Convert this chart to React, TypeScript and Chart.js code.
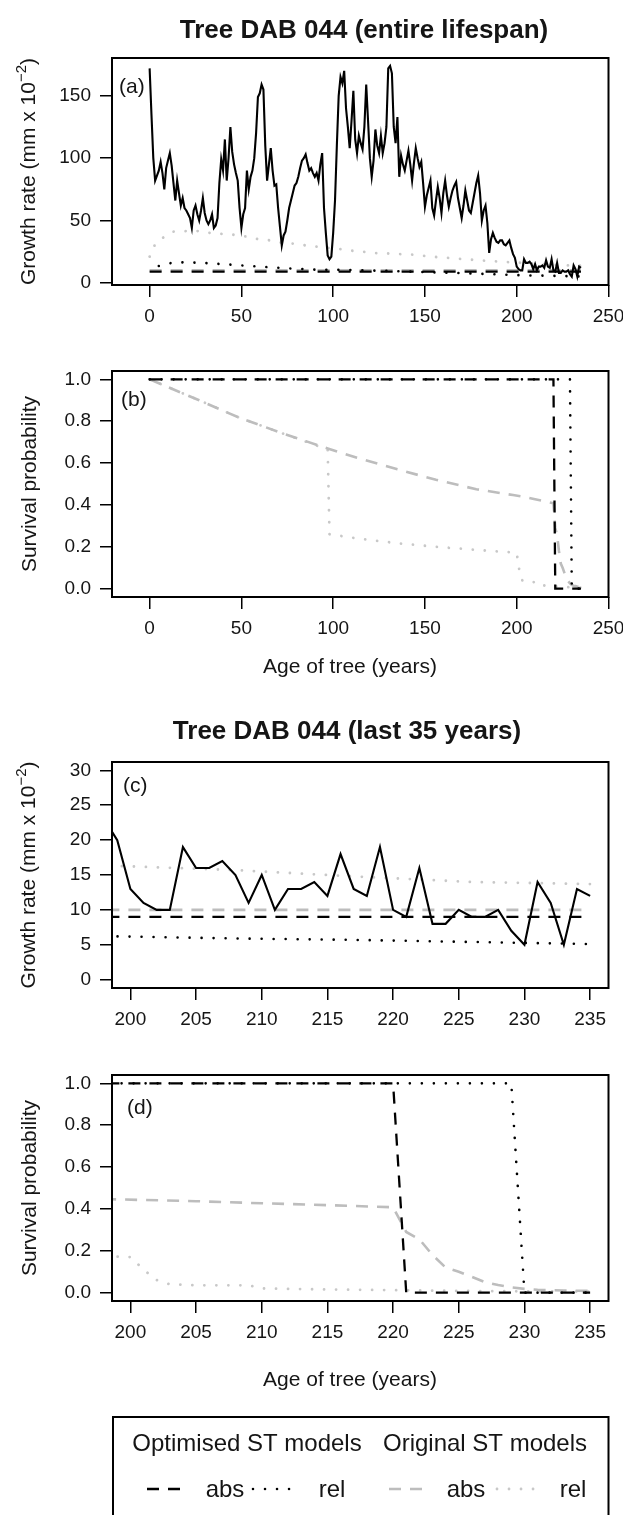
import React, { useEffect, useRef } from "react";
import { Chart, registerables } from "chart.js";

Chart.register(...registerables);

const PAGE_W = 623;
const PAGE_H = 1515;
const FONT = '"Liberation Sans", Arial, Helvetica, sans-serif';
const INK = "#151515";

// ---------------- data ----------------
// annual growth rate (mm x 10^-2), ages 0..235
const growthFirstAge = 0;
const growthRate = [
  172, 135, 100, 82, 86, 90, 97, 88, 75, 92,
  98, 104, 94, 80, 66, 82, 72, 62, 68, 60,
  58, 55, 52, 44, 58, 62, 55, 50, 58, 68,
  56, 50, 47, 50, 55, 44, 46, 52, 80, 99,
  90, 115, 82, 100, 125, 105, 95, 88, 82, 60,
  44, 55, 60, 90, 75, 85, 90, 100, 120, 149,
  152, 159, 155, 110, 82, 95, 108, 90, 78, 79,
  60, 45, 30, 38, 41, 50, 60, 66, 72, 78,
  80, 85, 92, 98, 100, 103, 96, 90, 92, 88,
  85, 88, 82, 95, 104, 60, 40, 22, 19, 21,
  40, 66, 110, 150, 165, 160, 170, 140, 125, 108,
  130, 154, 115, 104, 118, 112, 107, 125, 159, 130,
  100, 85, 98, 123, 110, 104, 118, 104, 112, 125,
  172, 174, 168, 125, 112, 133, 85, 102, 95, 90,
  98, 106, 95, 82, 96, 108, 100, 93, 97, 80,
  61, 70, 76, 82, 60, 54, 66, 77, 68, 56,
  72, 82, 70, 61, 68, 74, 78, 81, 68, 60,
  52, 62, 74, 66, 58, 56, 64, 72, 80, 86,
  72, 50, 58, 62, 48, 24, 35, 40, 36, 33,
  32, 34, 34, 31, 30, 32, 34, 28, 23, 20,
  13, 11, 10, 10, 19, 16, 16, 17, 15, 11,
  15, 10, 13, 13, 14, 12, 18, 13, 12, 19,
  10, 9, 16, 8, 8, 10, 9, 9, 10, 7,
  5, 14, 11, 5, 13, 12,
];
const growthAges = growthRate.map((_, i) => growthFirstAge + i);

// model growth thresholds
const optAbsGrowthAges = [0, 235];
const optAbsGrowth = [9, 9];
const origAbsGrowthAges = [0, 235];
const origAbsGrowth = [10, 10];
const optRelGrowthAges = [5, 12, 20, 32, 40, 50, 64, 77, 90, 103, 117, 130, 150, 178, 199, 208, 217, 226, 235];
const optRelGrowth = [13.5, 16, 16.5, 15.7, 15, 14, 12.6, 11.5, 10.6, 10.4, 10, 9.5, 8.6, 7.4, 6.2, 5.9, 5.7, 5.4, 5.1];
const origRelGrowthAges = [0, 3, 8, 13, 20, 27, 33, 46, 53, 59, 66, 72, 78, 85, 91, 104, 111, 124, 130, 144, 156, 169, 182, 199, 208, 217, 226, 235];
const origRelGrowth = [21, 31, 37, 41, 41.5, 41.5, 40, 38.5, 37, 35, 34, 32, 31.5, 30, 29, 27, 25.6, 23.8, 23.5, 22.5, 20.7, 19.2, 17.8, 16.3, 15.7, 14.8, 14.0, 13.7];

// survival probabilities
const optAbsSurvAges = [0, 220, 221, 235];
const optAbsSurv = [1, 1, 0, 0];
const optRelSurvAges = [0, 229, 230, 235];
const optRelSurv = [1, 1, 0, 0];
const origAbsSurvAges = [0, 27, 48, 73, 97, 113, 135, 156, 178, 198, 205, 210, 215, 220, 221, 222, 223, 224, 225, 226, 227, 228, 229, 230, 231, 232, 233, 234, 235];
const origAbsSurv = [1.0, 0.9, 0.82, 0.74, 0.67, 0.625, 0.57, 0.52, 0.475, 0.447, 0.437, 0.427, 0.418, 0.408, 0.29, 0.255, 0.18, 0.12, 0.1, 0.075, 0.05, 0.036, 0.025, 0.018, 0.014, 0.012, 0.01, 0.009, 0.008];
const origRelSurvAges = [0, 27, 48, 73, 97, 98, 113, 135, 156, 178, 199, 200, 201, 202, 203, 205, 209, 210, 215, 220, 225, 230, 235];
const origRelSurv = [1.0, 0.9, 0.82, 0.74, 0.665, 0.26, 0.24, 0.217, 0.2, 0.185, 0.172, 0.17, 0.11, 0.06, 0.04, 0.035, 0.035, 0.02, 0.015, 0.012, 0.008, 0.006, 0.005];

// ticks
const lifespanTicks = [0, 50, 100, 150, 200, 250];
const lastYearsTicks = [200, 205, 210, 215, 220, 225, 230, 235];
const growthTicksFull = [0, 50, 100, 150];
const growthTicksLast = [0, 5, 10, 15, 20, 25, 30];
const survTicks = [0, 0.2, 0.4, 0.6, 0.8, 1.0];

// ---------------- styles ----------------
const S_GROWTH = { borderColor: "#000", borderWidth: 2.1 };
const S_OPT_ABS = { borderColor: "#000", borderWidth: 2.3, borderDash: [12, 9] };
const S_OPT_REL = { borderColor: "#000", borderWidth: 2.6, borderDash: [0.01, 12], borderCapStyle: "round" };
const S_ORIG_ABS = { borderColor: "#bdbdbd", borderWidth: 2.6, borderDash: [12, 9] };
const S_ORIG_REL = { borderColor: "#c8c8c8", borderWidth: 2.8, borderDash: [0.01, 12], borderCapStyle: "round" };

const BOX_LEFT = 112;
const BOX_RIGHT = 608.5;
const XAXIS_H = 50;

const pts = (xs: number[], ys: number[]) => xs.map((x, i) => ({ x, y: ys[i] }));
const ds = (data: any[], style: any) => ({ data, pointRadius: 0, tension: 0, fill: false, ...style });

function scale(min: number, max: number, ticks: number[], fmt: (v: number) => string, isX: boolean) {
  return {
    type: "linear",
    min,
    max,
    bounds: "data",
    afterBuildTicks: (s: any) => {
      s.ticks = ticks.map((v) => ({ value: v }));
    },
    afterFit: (s: any) => {
      if (isX) s.height = XAXIS_H;
      else s.width = BOX_LEFT;
      s.paddingLeft = 0;
      s.paddingRight = 0;
      s.paddingTop = 0;
      s.paddingBottom = 0;
    },
    grid: { drawOnChartArea: false, drawTicks: true, tickLength: 12, color: "#000", lineWidth: 1.5 },
    border: { display: false },
    ticks: {
      font: { family: FONT, size: 19 },
      color: INK,
      padding: isX ? 8 : 9,
      maxRotation: 0,
      autoSkip: false,
      callback: (v: any) => fmt(Number(v)),
    },
  };
}

type Part = { t: string; size: number; dy: number };

function drawRotated(ctx: CanvasRenderingContext2D, parts: Part[], baseX: number, centerY: number) {
  ctx.save();
  ctx.translate(baseX, centerY);
  ctx.rotate(-Math.PI / 2);
  ctx.textAlign = "left";
  ctx.textBaseline = "alphabetic";
  let total = 0;
  const widths = parts.map((p) => {
    ctx.font = `${p.size}px ${FONT}`;
    const w = ctx.measureText(p.t).width;
    total += w;
    return w;
  });
  let x = -total / 2;
  parts.forEach((p, i) => {
    ctx.font = `${p.size}px ${FONT}`;
    ctx.fillText(p.t, x, p.dy);
    x += widths[i];
  });
  ctx.restore();
}

function seg(ctx: CanvasRenderingContext2D, x0: number, x1: number, y: number, st: any) {
  ctx.save();
  ctx.strokeStyle = st.borderColor;
  ctx.lineWidth = st.borderWidth;
  ctx.setLineDash(st.borderDash || []);
  ctx.lineCap = st.borderCapStyle || "butt";
  ctx.beginPath();
  ctx.moveTo(x0, y);
  ctx.lineTo(x1, y);
  ctx.stroke();
  ctx.restore();
}

function drawLegend(ctx: CanvasRenderingContext2D) {
  ctx.save();
  ctx.setLineDash([]);
  ctx.lineWidth = 2;
  ctx.strokeStyle = "#000";
  ctx.strokeRect(113, 1417, 495.5, 140);
  ctx.fillStyle = INK;
  ctx.font = `24px ${FONT}`;
  ctx.textAlign = "center";
  ctx.textBaseline = "alphabetic";
  ctx.fillText("Optimised ST models", 247, 1451);
  ctx.fillText("Original ST models", 485, 1451);
  ctx.fillText("abs", 225, 1497);
  ctx.fillText("rel", 332, 1497);
  ctx.fillText("abs", 466, 1497);
  ctx.fillText("rel", 573, 1497);
  seg(ctx, 147, 180, 1489, S_OPT_ABS);
  seg(ctx, 253, 293, 1489, S_OPT_REL);
  seg(ctx, 389, 422, 1489, S_ORIG_ABS);
  seg(ctx, 497, 545, 1489, S_ORIG_REL);
  ctx.restore();
}

type Decor = {
  label: string;
  labelX: number;
  labelBase: number;
  title?: string;
  titleX?: number;
  titleBase?: number;
  xlab?: string;
  xlabX?: number;
  xlabBase?: number;
  ylab: Part[];
  ylabBaseX: number;
  legend?: boolean;
};

function decorPlugin(d: Decor) {
  return {
    id: "decor",
    afterDraw(chart: any) {
      const ctx: CanvasRenderingContext2D = chart.ctx;
      const a = chart.chartArea;
      ctx.save();
      ctx.setLineDash([]);
      ctx.strokeStyle = "#000";
      ctx.lineWidth = 2;
      ctx.strokeRect(a.left, a.top, a.right - a.left, a.bottom - a.top);
      ctx.fillStyle = INK;
      ctx.textBaseline = "alphabetic";
      ctx.font = `21px ${FONT}`;
      ctx.textAlign = "left";
      ctx.fillText(d.label, d.labelX, d.labelBase);
      if (d.title) {
        ctx.font = `bold 26px ${FONT}`;
        ctx.textAlign = "center";
        ctx.fillText(d.title, d.titleX!, d.titleBase!);
      }
      if (d.xlab) {
        ctx.font = `21px ${FONT}`;
        ctx.textAlign = "center";
        ctx.fillText(d.xlab, d.xlabX!, d.xlabBase!);
      }
      drawRotated(ctx, d.ylab, d.ylabBaseX, (a.top + a.bottom) / 2);
      if (d.legend) drawLegend(ctx);
      ctx.restore();
    },
  };
}

const growthLab: Part[] = [
  { t: "Growth rate (mm x 10", size: 21, dy: 0 },
  { t: "\u22122", size: 15, dy: -9 },
  { t: ")", size: 21, dy: 0 },
];
const survLab: Part[] = [{ t: "Survival probability", size: 21, dy: 0 }];

const fmtInt = (v: number) => String(Math.round(v));
const fmt1 = (v: number) => v.toFixed(1);

function buildConfig(
  top: number,
  bottom: number,
  datasets: any[],
  xs: any,
  ys: any,
  decor: Decor
): any {
  return {
    type: "line",
    data: { datasets },
    options: {
      responsive: false,
      maintainAspectRatio: false,
      animation: false,
      events: [],
      layout: {
        autoPadding: false,
        padding: { top, left: 0, right: PAGE_W - BOX_RIGHT, bottom: PAGE_H - bottom - XAXIS_H },
      },
      plugins: { legend: { display: false }, tooltip: { enabled: false }, title: { display: false } },
      scales: { x: xs, y: ys },
    },
    plugins: [decorPlugin(decor)],
  };
}

function growthSets() {
  return [
    ds(pts(growthAges, growthRate), S_GROWTH),
    ds(pts(optAbsGrowthAges, optAbsGrowth), S_OPT_ABS),
    ds(pts(optRelGrowthAges, optRelGrowth), S_OPT_REL),
    ds(pts(origAbsGrowthAges, origAbsGrowth), S_ORIG_ABS),
    ds(pts(origRelGrowthAges, origRelGrowth), S_ORIG_REL),
  ];
}

function survSets() {
  return [
    ds(pts(optAbsSurvAges, optAbsSurv), S_OPT_ABS),
    ds(pts(optRelSurvAges, optRelSurv), S_OPT_REL),
    ds(pts(origAbsSurvAges, origAbsSurv), S_ORIG_ABS),
    ds(pts(origRelSurvAges, origRelSurv), S_ORIG_REL),
  ];
}

export default function App() {
  const r1 = useRef<HTMLCanvasElement>(null);
  const r2 = useRef<HTMLCanvasElement>(null);
  const r3 = useRef<HTMLCanvasElement>(null);
  const r4 = useRef<HTMLCanvasElement>(null);

  useEffect(() => {
    const cfgs = [
      buildConfig(
        58,
        285,
        growthSets(),
        scale(-20.5, 250, lifespanTicks, fmtInt, true),
        scale(-1.75, 180.3, growthTicksFull, fmtInt, false),
        {
          label: "(a)", labelX: 119, labelBase: 92.5,
          title: "Tree DAB 044 (entire lifespan)", titleX: 364, titleBase: 37.5,
          ylab: growthLab, ylabBaseX: 35,
        }
      ),
      buildConfig(
        371,
        597,
        survSets(),
        scale(-20.5, 250, lifespanTicks, fmtInt, true),
        scale(-0.04, 1.04, survTicks, fmt1, false),
        {
          label: "(b)", labelX: 121, labelBase: 405.5,
          xlab: "Age of tree (years)", xlabX: 350, xlabBase: 672.5,
          ylab: survLab, ylabBaseX: 35.5,
        }
      ),
      buildConfig(
        762,
        988,
        growthSets(),
        scale(198.6, 236.4, lastYearsTicks, fmtInt, true),
        scale(-1.2, 31.2, growthTicksLast, fmtInt, false),
        {
          label: "(c)", labelX: 123, labelBase: 792.3,
          title: "Tree DAB 044 (last 35 years)", titleX: 347, titleBase: 739,
          ylab: growthLab, ylabBaseX: 35,
        }
      ),
      buildConfig(
        1075,
        1301,
        survSets(),
        scale(198.6, 236.4, lastYearsTicks, fmtInt, true),
        scale(-0.04, 1.04, survTicks, fmt1, false),
        {
          label: "(d)", labelX: 127, labelBase: 1114,
          xlab: "Age of tree (years)", xlabX: 350, xlabBase: 1386,
          ylab: survLab, ylabBaseX: 35.5,
          legend: true,
        }
      ),
    ];
    const refs = [r1, r2, r3, r4];
    const charts = cfgs.map((c, i) => new Chart(refs[i].current as HTMLCanvasElement, c));
    return () => charts.forEach((c) => c.destroy());
  }, []);

  const cs: React.CSSProperties = { position: "absolute", left: 0, top: 0, width: PAGE_W, height: PAGE_H };
  return (
    <div style={{ position: "absolute", left: 0, top: 0, width: PAGE_W, height: PAGE_H, background: "#fff", overflow: "hidden" }}>
      <canvas ref={r1} width={PAGE_W} height={PAGE_H} style={cs} />
      <canvas ref={r2} width={PAGE_W} height={PAGE_H} style={cs} />
      <canvas ref={r3} width={PAGE_W} height={PAGE_H} style={cs} />
      <canvas ref={r4} width={PAGE_W} height={PAGE_H} style={cs} />
    </div>
  );
}
